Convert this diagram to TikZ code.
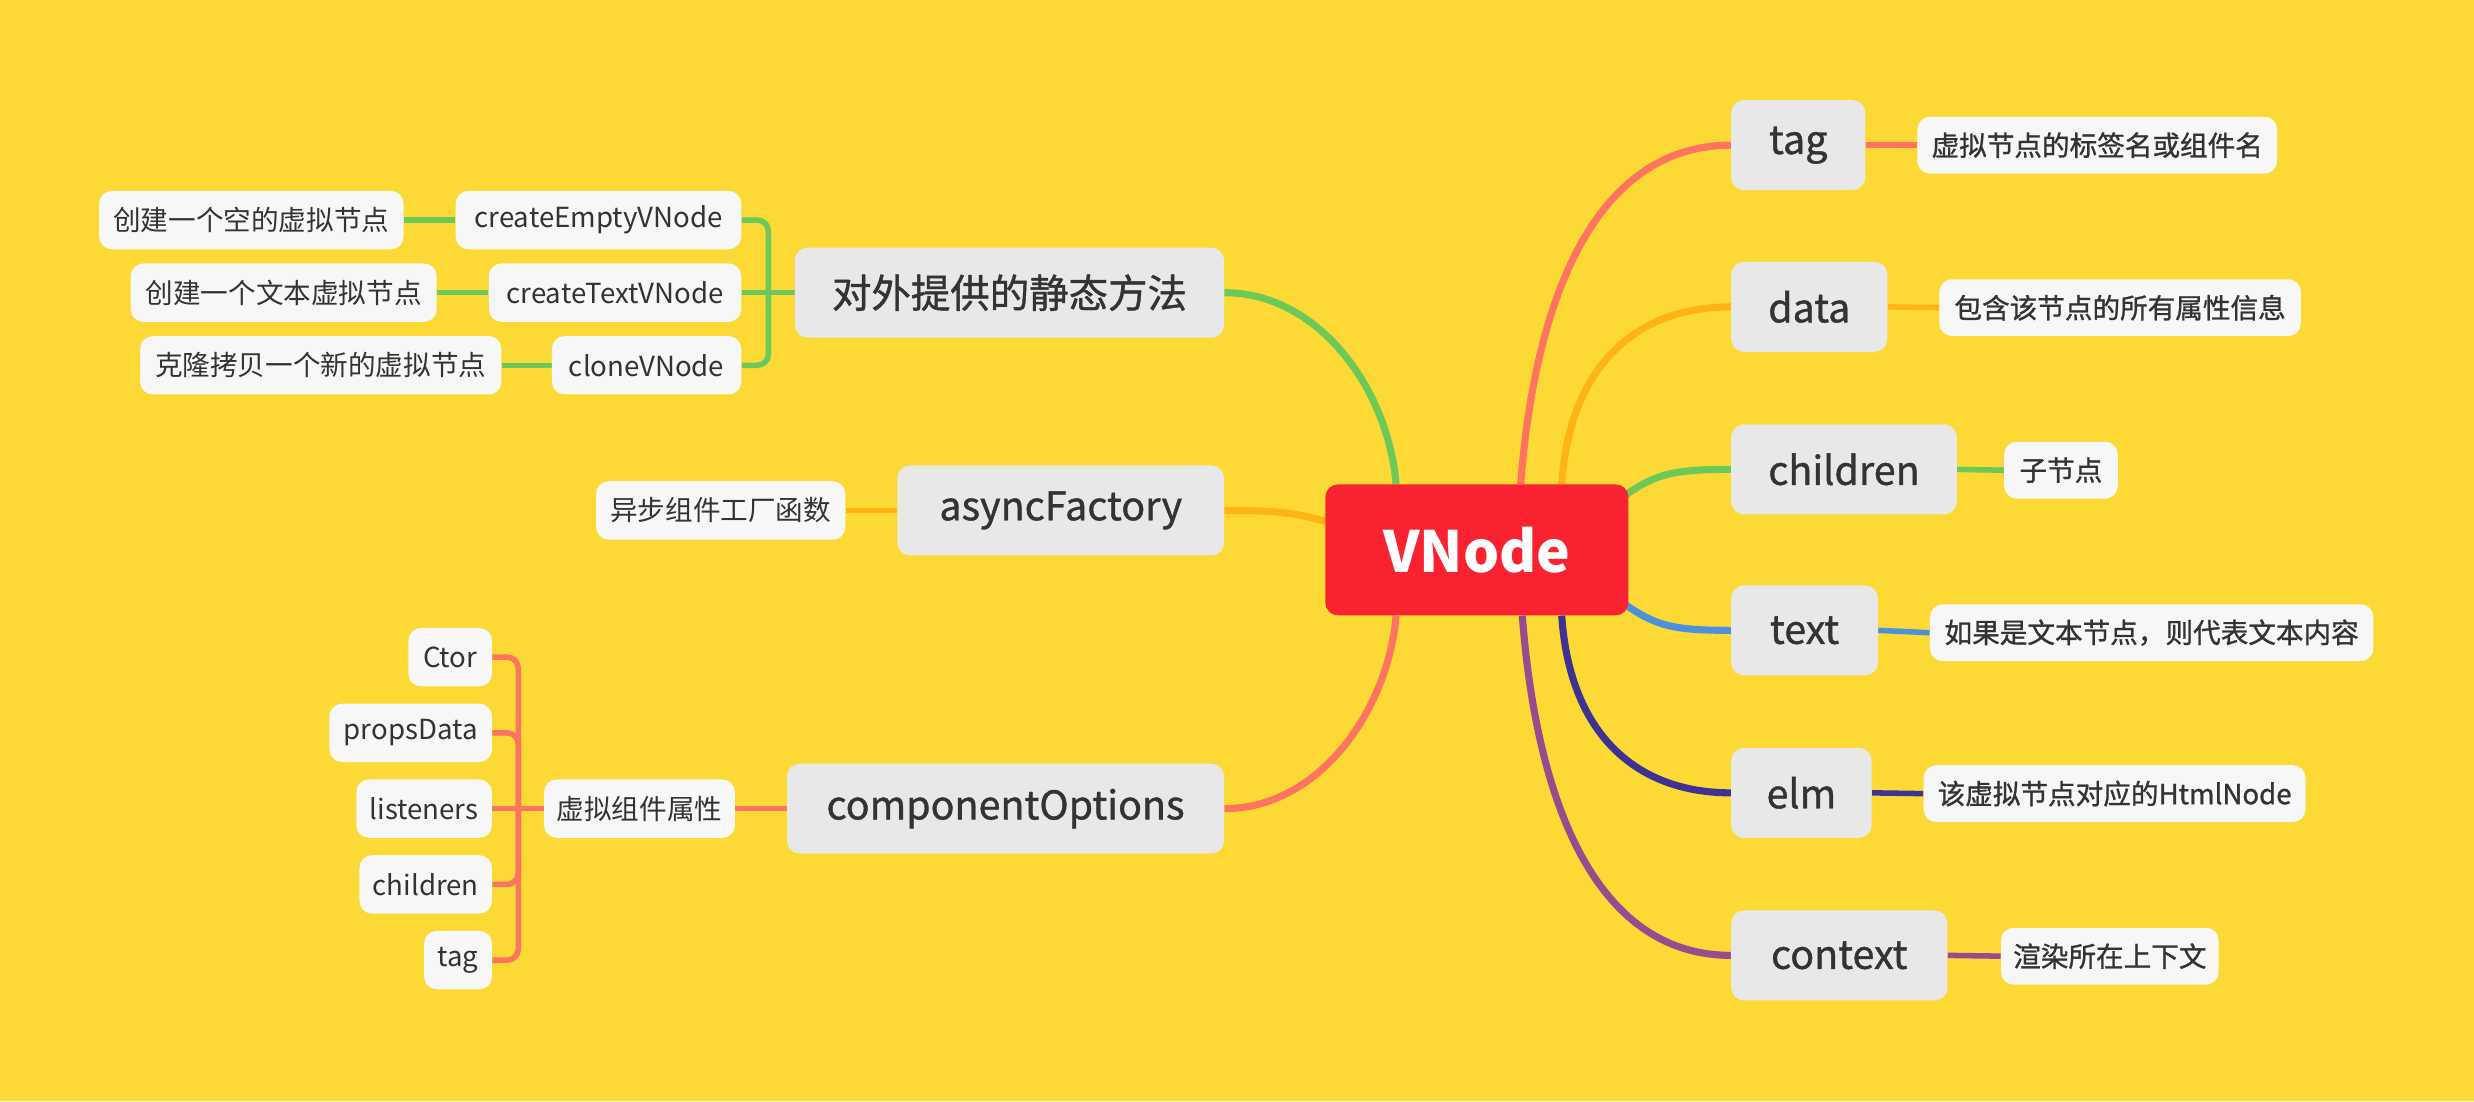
\documentclass[tikz,border=0pt]{standalone}
\usepackage{fontspec}
\setmainfont{Noto Sans CJK SC}
\newfontfamily\medfont{Noto Sans CJK SC}[FakeBold=1.0]
\usetikzlibrary{calc,backgrounds}
\definecolor{bg}{RGB}{253,217,53}
\definecolor{rootred}{RGB}{248,34,48}
\definecolor{topicfill}{RGB}{232,232,232}
\definecolor{leaffill}{RGB}{247,247,247}
\definecolor{txt}{RGB}{51,51,51}
\definecolor{csalmon}{RGB}{255,116,96}
\definecolor{corange}{RGB}{255,179,20}
\definecolor{cgreen}{RGB}{108,200,88}
\definecolor{cblue}{RGB}{77,144,219}
\definecolor{cindigo}{RGB}{62,51,147}
\definecolor{cpurple}{RGB}{154,74,142}
\tikzset{
  rootbox/.style={rectangle, rounded corners=8pt, fill=rootred, text=white,
    font=\bfseries\fontsize{36}{40}\selectfont, minimum width=192pt, minimum height=83pt, inner sep=0pt},
  topic/.style={rectangle, rounded corners=8pt, fill=topicfill, text=txt,
    font=\medfont\fontsize{25}{30}\selectfont, minimum height=57pt, inner sep=0pt},
  leafR/.style={rectangle, rounded corners=8pt, fill=leaffill, text=txt,
    font=\medfont\fontsize{17.5}{21}\selectfont, minimum height=36pt, inner sep=0pt},
  leafL/.style={rectangle, rounded corners=8pt, fill=leaffill, text=txt,
    font=\fontsize{17.5}{21}\selectfont, minimum height=37pt, inner sep=0pt},
  mainline/.style={line width=4.5pt},
  subline/.style={line width=3.5pt, rounded corners=7pt}
}
\begin{document}
\begin{tikzpicture}[x=1pt,y=-1pt]
\useasboundingbox (0,0) rectangle (1568,698);
% root
\node[rootbox] (vn) at (936,348.5) {VNode};
% right topics
\node[topic, anchor=west, minimum width=85pt]  (tag)      at (1097,92)    {tag};
\node[topic, anchor=west, minimum width=99pt]  (data)     at (1097,194.5) {data};
\node[topic, anchor=west, minimum width=143pt] (children) at (1097,297.5) {children};
\node[topic, anchor=west, minimum width=93pt]  (text)     at (1097,399.5) {text};
\node[topic, anchor=west, minimum width=89pt]  (elm)      at (1097,502.5) {elm};
\node[topic, anchor=west, minimum width=137pt] (context)  at (1097,605.5) {context};
% right leaves
\node[leafR, anchor=west, minimum width=228pt] (tagL)      at (1215,92)  {虚拟节点的标签名或组件名};
\node[leafR, anchor=west, minimum width=229pt] (dataL)     at (1229,195) {包含该节点的所有属性信息};
\node[leafR, anchor=west, minimum width=72pt]  (childrenL) at (1270,298) {子节点};
\node[leafR, anchor=west, minimum width=281pt] (textL)     at (1223,401) {如果是文本节点，则代表文本内容};
\node[leafR, anchor=west, minimum width=242pt] (elmL)      at (1219,503) {该虚拟节点对应的HtmlNode};
\node[leafR, anchor=west, minimum width=138pt] (contextL)  at (1268,606) {渲染所在上下文};
% left topics
\node[topic, anchor=east, minimum width=272pt] (static) at (776,185.5) {对外提供的静态方法};
\node[topic, anchor=east, minimum width=207pt] (async)  at (776,323.5) {asyncFactory};
\node[topic, anchor=east, minimum width=277pt] (comp)   at (776,512.5) {componentOptions};
% static methods
\node[leafL, anchor=east, minimum width=181pt] (cev) at (470,139.5) {createEmptyVNode};
\node[leafL, anchor=east, minimum width=160pt] (ctv) at (470,185.5) {createTextVNode};
\node[leafL, anchor=east, minimum width=120pt] (clv) at (470,231.5) {cloneVNode};
\node[leafL, anchor=east, minimum width=193pt] (cevL) at (256,139.5) {创建一个空的虚拟节点};
\node[leafL, anchor=east, minimum width=194pt] (ctvL) at (277,185.5) {创建一个文本虚拟节点};
\node[leafL, anchor=east, minimum width=229pt] (clvL) at (318,231.5) {克隆拷贝一个新的虚拟节点};
% async
\node[leafL, anchor=east, minimum width=158pt] (asyncL) at (536,323.5) {异步组件工厂函数};
% component options
\node[leafL, anchor=east, minimum width=121pt] (compL) at (466,512.5) {虚拟组件属性};
\node[leafL, anchor=east, minimum width=53pt]  (ctor)  at (312,416.5) {Ctor};
\node[leafL, anchor=east, minimum width=103pt] (props) at (312,464.5) {propsData};
\node[leafL, anchor=east, minimum width=86pt]  (lis)   at (312,512.5) {listeners};
\node[leafL, anchor=east, minimum width=84pt]  (chi)   at (312,560.5) {children};
\node[leafL, anchor=east, minimum width=43pt]  (tg)    at (312,608.5) {tag};
\coordinate (sb) at (487,185.5);
\coordinate (cb) at (328.5,512.5);
\begin{scope}[on background layer]
\fill[bg] (0,0) rectangle (1568,698);
% right main curves
\draw[mainline, csalmon] ($(vn.north west)+(124,0)$) .. controls +(10,-130) and +(-80,0) .. (tag.west);
\draw[mainline, corange] ($(vn.north west)+(150,0)$) .. controls +(5,-75) and +(-60,0) .. (data.west);
\draw[mainline, cgreen]  ($(vn.north east)+(-2,7)$) .. controls +(20,-14) and +(-35,0) .. (children.west);
\draw[mainline, cblue]   ($(vn.south east)+(-2,-7)$) .. controls +(20,14) and +(-35,0) .. (text.west);
\draw[mainline, cindigo] ($(vn.south west)+(150,0)$) .. controls +(5,75) and +(-60,0) .. (elm.west);
\draw[mainline, cpurple] ($(vn.south west)+(125,0)$) .. controls +(10,130) and +(-80,0) .. (context.west);
% left main curves
\draw[mainline, cgreen]  ($(vn.north west)+(45,0)$) .. controls +(-5,-60) and +(60,0) .. (static.east);
\draw[mainline, corange] ($(vn.west)+(0,-18)$) .. controls +(-20,-6) and +(30,0) .. (async.east);
\draw[mainline, csalmon] ($(vn.south west)+(45,0)$) .. controls +(-5,60) and +(60,0) .. (comp.east);
% right leaf lines
\draw[subline, csalmon] (tag.east) -- (tagL.west);
\draw[subline, corange] (data.east) -- (dataL.west);
\draw[subline, cgreen]  (children.east) -- (childrenL.west);
\draw[subline, cblue]   (text.east) -- (textL.west);
\draw[subline, cindigo] (elm.east) -- (elmL.west);
\draw[subline, cpurple] (context.east) -- (contextL.west);
% static methods bracket
\draw[subline, cgreen] (static.west) -- (ctv.east);
\draw[subline, cgreen] (sb) |- (cev.east);
\draw[subline, cgreen] (sb) |- (clv.east);
\draw[subline, cgreen] (cev.west) -- (cevL.east);
\draw[subline, cgreen] (ctv.west) -- (ctvL.east);
\draw[subline, cgreen] (clv.west) -- (clvL.east);
% async
\draw[subline, corange] (async.west) -- (asyncL.east);
% component options
\draw[subline, csalmon] (comp.west) -- (compL.east);
\draw[subline, csalmon] (compL.west) -- (lis.east);
\draw[subline, csalmon] (cb) |- (ctor.east);
\draw[subline, csalmon] (cb) |- (props.east);
\draw[subline, csalmon] (cb) |- (chi.east);
\draw[subline, csalmon] (cb) |- (tg.east);
\end{scope}
\end{tikzpicture}
\end{document}
